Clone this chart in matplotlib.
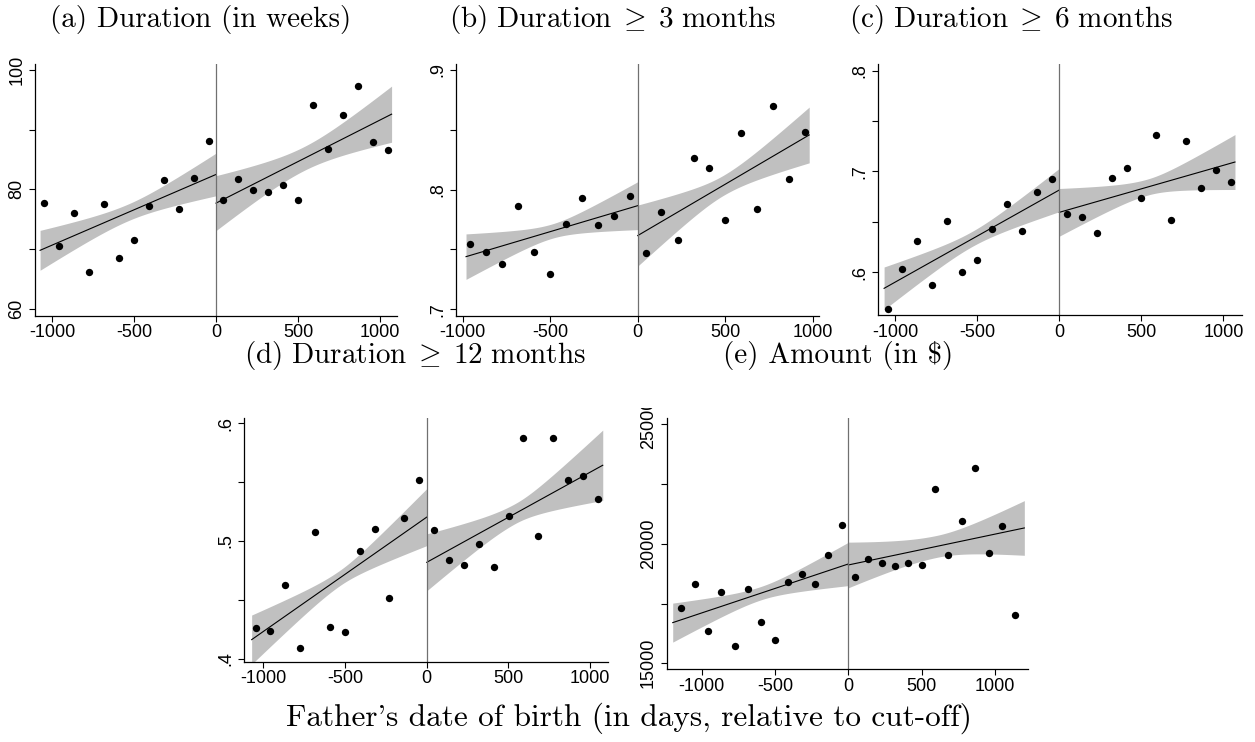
import numpy as np
import matplotlib
matplotlib.use("Agg")
import matplotlib.pyplot as plt
from matplotlib.transforms import Bbox

W, H = 1255, 742

# bin centres (days relative to cut-off)
X_LEFT = [-1138, -1047, -956, -865, -774, -683, -592, -501, -410, -319, -228, -136, -45]
X_RIGHT = [45, 136, 228, 319, 410, 501, 592, 683, 774, 865, 956, 1047, 1138]

titles = [
    "(a) Duration (in weeks)",
    r"$\mathrm{(b)\ Duration}\;\geq\;\mathrm{3\ months}$",
    r"$\mathrm{(c)\ Duration}\;\geq\;\mathrm{6\ months}$",
    r"$\mathrm{(d)\ Duration}\;\geq\;\mathrm{12\ months}$",
    r"(e) Amount (in \$)",
]

# (a) duration in weeks
a_left = [77.7, 70.5, 76.0, 66.1, 77.5, 68.5, 71.5, 77.3, 81.5, 76.7, 81.9, 88.1]
a_right = [78.2, 81.7, 79.9, 79.6, 80.8, 78.3, 94.1, 86.7, 92.5, 97.3, 87.9, 86.6]
# (b) duration >= 3 months
b_left = [.7549, .7482, .7379, .7863, .7479, .7292, .7710, .7933, .7708, .7783, .7950]
b_right = [.7468, .7811, .7579, .8265, .8181, .7744, .8476, .7841, .8702, .8089, .8479]
# (c) duration >= 6 months
c_left = [.5629, .6030, .6308, .5874, .6510, .5997, .6119, .6430, .6679, .6411, .6795, .6921]
c_right = [.6579, .6546, .6391, .6934, .7036, .6735, .7364, .6513, .7305, .6838, .7010, .6894]
# (d) duration >= 12 months
d_left = [.4259, .4233, .4629, .4094, .5073, .4270, .4225, .4913, .5101, .4512, .5195, .5516]
d_right = [.5090, .4842, .4797, .4973, .4777, .5212, .5878, .5041, .5872, .5519, .5550, .5354]
# (e) amount in $
e_left = [17301, 18333, 16367, 17999, 15725, 18110, 16715, 15976, 18417, 18724, 18319, 19519, 20802]
e_right = [18626, 19379, 19198, 19073, 19184, 19128, 22280, 19519, 20955, 23187, 19616, 20760, 17022]

# linear fits: x start, x end, y start, y end, CI half-width at start / middle / end
fit_a = [[-1073, 0, 69.8, 82.5, 3.34, 1.4, 3.57], [0, 1071, 77.7, 92.6, 4.6, 2.0, 4.7]]
fit_b = [[-981, 0, .7440, .7866, .019, .006, .020], [0, 980, .7616, .8457, .0255, .0084, .0233]]
fit_c = [[-1068, 0, .5838, .6815, .0212, .0075, .0215], [0, 1071, .6593, .7093, .0237, .008, .0273]]
fit_d = [[-1071, 0, .4162, .5203, .0209, .0065, .0242], [0, 1077, .4819, .5644, .0242, .0085, .0299]]
fit_e = [[-1197, 0, 16702, 19156, 816, 280, 906], [0, 1200, 19114, 20663, 955, 460, 1144]]

yticks = [
    [60, 70, 80, 90, 100],
    [.7, .75, .8, .85, .9],
    [.6, .65, .7, .75, .8],
    [.4, .45, .5, .55, .6],
    [15000, 17500, 20000, 22500, 25000],
]
ytick_labels = [
    ["60", "", "80", "", "100"],
    [".7", "", ".8", "", ".9"],
    [".6", "", ".7", "", ".8"],
    [".4", "", ".5", "", ".6"],
    ["15000", "", "20000", "", "25000"],
]
xticks = [-1000, -500, 0, 500, 1000]
xtick_labels = ["-1000", "-500", "0", "500", "1000"]

panels = [
    (a_left, a_right, fit_a),
    (b_left, b_right, fit_b),
    (c_left, c_right, fit_c),
    (d_left, d_right, fit_d),
    (e_left, e_right, fit_e),
]

# layout in pixels: left, top, right, bottom, xlim, ylim
boxes = [
    (35, 64, 397, 316, (-1104, 1104), (58.8, 101)),
    (455.7, 64, 819, 316, (-1040, 1036), (.6944, .905)),
    (877.7, 64, 1241.7, 315.3, (-1107, 1112), (.557, .8067)),
    (244.3, 418.3, 608.3, 662, (-1116, 1111), (.3972, .6043)),
    (666.7, 418.3, 1028.3, 669.3, (-1238, 1227), (14749, 25251)),
]
title_pos = [(201, 19), (613, 19), (1011, 19), (415, 356), (838, 356)]

plt.rcParams["mathtext.fontset"] = "cm"
plt.rcParams["axes.unicode_minus"] = False
tick_font = ["Liberation Sans Narrow", "Liberation Sans", "DejaVu Sans"]


def draw_fit(ax, fit):
    x0, x1, y0, y1, h0, hm, h1 = fit
    xs = np.linspace(x0, x1, 200)
    ys = y0 + (y1 - y0) * (xs - x0) / (x1 - x0)
    t = (xs - (x0 + x1) / 2) / ((x1 - x0) / 2)
    he = np.where(t < 0, h0, h1)
    hw = np.sqrt(hm ** 2 + t ** 2 * (he ** 2 - hm ** 2))
    ax.fill_between(xs, ys - hw, ys + hw, color="#c0c0c0", lw=0, zorder=1)
    ax.plot(xs, ys, color="black", lw=0.8, zorder=2)


fig = plt.figure(figsize=(W / 100, H / 100), dpi=100)

for i, ((yl, yr, fits), box) in enumerate(zip(panels, boxes)):
    l, t, r, b, xlim, ylim = box
    ax = fig.add_axes([l / W, 1 - b / H, (r - l) / W, (b - t) / H])
    draw_fit(ax, fits[0])
    draw_fit(ax, fits[1])
    ax.scatter(X_LEFT[-len(yl):], yl, s=28, color="black", zorder=3, lw=0)
    ax.scatter(X_RIGHT[:len(yr)], yr, s=28, color="black", zorder=3, lw=0)
    ax.axvline(0, color="#707070", lw=0.9, zorder=2)
    ax.set_xlim(*xlim)
    ax.set_ylim(*ylim)
    ax.set_xticks(xticks)
    ax.set_xticklabels(xtick_labels, family=tick_font, fontsize=13)
    ax.set_yticks(yticks[i])
    ax.set_yticklabels(ytick_labels[i], family=tick_font, fontsize=13,
                       rotation=90, va="center")
    for s in ["top", "right"]:
        ax.spines[s].set_visible(False)
    for s in ["left", "bottom"]:
        ax.spines[s].set_linewidth(0.9)
    ax.tick_params(direction="out", length=4, width=0.8, pad=2)
    ax.tick_params(axis="y", pad=3)
    ax.patch.set_alpha(0)
    if i == 4:
        # the top label is cut off at the subfigure edge in the original
        for lab in ax.get_yticklabels():
            lab.set_clip_box(Bbox.from_extents(0, 0, W, H - 408))
            lab.set_clip_on(True)

    x, y = title_pos[i]
    fig.text(x / W, 1 - y / H, titles[i], ha="center", va="center",
             fontsize=21, family="cmr10")

fig.text(629 / W, 1 - 718 / H, "Father's date of birth (in days, relative to cut-off)",
         ha="center", va="center", fontsize=22.5, family="cmr10")

fig.savefig("out.png", dpi=100)
